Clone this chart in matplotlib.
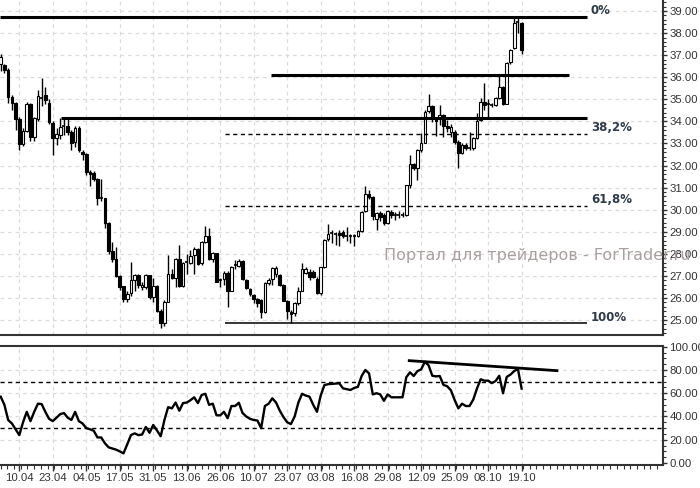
import matplotlib
matplotlib.use("Agg")
import matplotlib.pyplot as plt
from matplotlib.ticker import MultipleLocator, FixedLocator, FuncFormatter

plt.rcParams['font.family'] = ['Liberation Sans', 'DejaVu Sans']

# --- данные (читаются с графика) ---
opens = [36.6, 36.55, 36.33, 35.12, 34.85, 34.1, 32.97, 33.58, 34.8, 33.3,
         34.1, 35.0, 35.2, 34.85, 33.92, 33.26, 33.4, 33.75, 33.8, 33.5,
         33.05, 33.7, 32.62, 32.52, 31.72, 31.66, 31.39, 30.5, 30.53, 29.4,
         28.14, 27.78, 27.0, 26.54, 25.95, 26.22, 26.8, 27.04, 26.48, 26.5,
         27.04, 26.03, 26.54, 25.42, 24.85, 25.83, 27.08, 26.89, 27.75, 26.54,
         27.58, 27.6, 27.94, 28.2, 27.57, 28.55, 28.8, 27.75, 28.02, 26.76,
         26.84, 27.14, 26.33, 27.43, 27.45, 27.69, 26.81, 26.39, 26.13, 25.94,
         25.91, 25.35, 26.66, 26.84, 27.08, 27.04, 26.59, 25.87, 25.38, 25.33,
         25.78, 26.33, 27.15, 27.19, 27.19, 26.88, 26.21, 27.38, 28.65, 28.88,
         28.9, 28.96, 29.0, 28.8, 28.82, 28.8, 28.8, 29.05, 29.95, 30.71,
         30.56, 29.56, 29.86, 29.76, 29.41, 29.9, 29.77, 29.76, 29.78, 29.76,
         31.1, 32.07, 31.87, 32.7, 33.03, 34.48, 34.7, 34.14, 34.14, 34.29,
         33.79, 33.53, 33.53, 33.08, 32.55, 32.93, 32.78, 32.78, 33.26, 34.06,
         34.86, 34.75, 34.76, 34.74, 35.04, 35.54, 34.81, 36.7, 37.31, 38.47,
         38.45]
highs = [37.05, 36.6, 36.4, 35.2, 34.9, 34.2, 33.7, 34.9, 34.85, 34.2,
         35.42, 35.95, 35.55, 35.0, 34.0, 33.7, 34.15, 34.15, 34.15, 33.6,
         33.8, 33.8, 32.7, 32.55, 31.8, 31.75, 31.45, 31.4, 30.55, 29.45,
         28.55, 28.32, 27.05, 26.55, 26.3, 27.64, 27.1, 27.1, 26.7, 27.1,
         27.06, 26.9, 26.6, 25.5, 25.9, 27.94, 27.3, 27.8, 28.4, 27.65,
         28.0, 28.15, 28.3, 28.25, 28.6, 29.26, 29.15, 28.1, 28.05, 26.9,
         27.2, 27.2, 27.45, 27.7, 27.75, 27.72, 26.85, 26.45, 26.2, 26.0,
         25.95, 26.7, 26.9, 27.4, 27.45, 27.1, 26.62, 25.9, 25.45, 25.8,
         26.5, 27.6, 27.4, 27.3, 27.25, 26.95, 27.4, 28.65, 29.35, 29.08,
         29.0, 29.1, 29.1, 29.2, 28.9, 28.9, 29.1, 29.95, 31.07, 30.9,
         30.6, 29.9, 29.95, 29.85, 30.0, 29.98, 29.9, 29.95, 29.9, 31.12,
         32.47, 32.1, 32.75, 33.46, 34.5, 35.22, 34.75, 34.2, 34.75, 34.35,
         34.05, 33.9, 33.6, 33.15, 33.0, 33.0, 33.5, 33.3, 34.4, 35.04,
         35.72, 35.0, 34.82, 35.09, 36.05, 35.6, 36.7, 37.3, 38.74, 38.74,
         38.5]
lows = [36.3, 36.2, 34.85, 34.5, 33.6, 32.7, 32.9, 33.5, 33.1, 33.1,
        34.0, 34.7, 34.8, 33.9, 32.48, 32.95, 33.2, 33.4, 33.4, 32.7,
        32.85, 32.6, 32.25, 31.55, 31.08, 31.3, 30.2, 30.4, 29.17, 28.0,
        27.64, 26.95, 26.36, 25.8, 25.8, 26.1, 26.3, 26.45, 26.35, 26.4,
        25.95, 25.83, 25.35, 24.62, 24.75, 25.8, 26.85, 26.5, 26.5, 26.5,
        27.1, 27.55, 27.1, 27.5, 27.5, 28.5, 27.7, 27.65, 26.7, 26.5,
        26.6, 25.6, 26.3, 27.3, 27.4, 26.8, 26.4, 26.1, 25.75, 25.6,
        25.1, 25.3, 26.6, 26.6, 26.95, 26.55, 25.85, 25.03, 24.88, 25.2,
        25.7, 26.3, 27.1, 26.8, 26.9, 26.2, 26.15, 27.35, 28.6, 28.5,
        28.4, 28.35, 28.7, 28.6, 28.5, 28.35, 28.75, 29.0, 29.9, 30.5,
        29.55, 29.08, 29.5, 29.3, 29.35, 29.6, 29.55, 29.6, 29.65, 29.7,
        31.0, 31.8, 31.34, 32.6, 33.0, 34.4, 33.98, 33.34, 33.85, 33.27,
        33.5, 33.3, 32.97, 31.87, 32.5, 32.7, 32.7, 32.72, 33.2, 34.0,
        34.5, 34.2, 34.66, 34.7, 35.0, 34.75, 34.78, 36.6, 37.28, 38.02,
        37.05]
closes = [36.9, 36.33, 35.12, 34.85, 34.1, 32.97, 33.58, 34.8, 33.3, 34.15,
          35.15, 35.05, 34.95, 33.95, 33.26, 33.42, 33.74, 33.8, 33.53, 33.03,
          33.7, 32.7, 32.5, 31.72, 31.62, 31.4, 30.53, 30.55, 29.4, 28.14,
          27.78, 27.0, 26.5, 25.95, 26.2, 26.81, 27.04, 26.58, 26.58, 27.04,
          26.06, 26.54, 25.42, 24.85, 25.83, 27.08, 26.89, 27.75, 26.54, 27.6,
          27.62, 27.9, 28.2, 27.54, 28.52, 28.8, 27.75, 28.02, 26.73, 26.8,
          27.11, 26.33, 27.39, 27.47, 27.69, 26.84, 26.44, 26.18, 25.94, 25.78,
          25.35, 26.66, 26.81, 27.34, 27.34, 26.59, 25.87, 25.42, 25.27, 25.78,
          26.33, 27.3, 27.3, 26.96, 26.93, 26.21, 27.38, 28.62, 28.9, 28.92,
          28.91, 28.85, 28.8, 28.82, 28.8, 28.82, 29.05, 29.91, 30.71, 30.56,
          29.7, 29.83, 29.65, 29.41, 29.95, 29.78, 29.76, 29.78, 29.76, 31.1,
          32.07, 31.87, 32.7, 33.0, 34.44, 34.7, 34.09, 34.03, 34.29, 33.79,
          33.68, 33.73, 33.08, 32.55, 32.93, 32.78, 32.8, 33.26, 34.03, 34.86,
          34.74, 34.77, 34.74, 35.04, 35.54, 34.81, 36.66, 37.23, 38.47, 38.5,
          37.25]
rsi = [57, 50, 37, 34, 29, 24, 35, 44, 36, 44,
       51, 50.7, 44, 38, 36, 39, 42, 43, 39, 37,
       44, 36, 34, 30, 29, 27.8, 22, 22, 17, 13.5,
       12.5, 11.5, 10, 8.3, 16, 24, 25.5, 24, 24.5, 31,
       26, 32.7, 28, 23, 37, 48, 47, 52, 45, 51.5,
       52, 54, 56.5, 51.5, 58.5, 59.5, 50, 51, 41, 41,
       44, 38.5, 49, 49, 51.8, 43, 40, 38, 37, 36.5,
       30, 49, 51, 55.6, 52, 45, 39.5, 35, 33.5, 40,
       52, 59.5, 58, 57, 50, 44, 58, 67, 67.8, 68,
       68.3, 68.5, 64.2, 63.5, 62.8, 64.5, 65.5, 74.8, 80, 77,
       59, 60, 59, 53.5, 59, 56.5, 56.5, 56.5, 56.5, 73.7,
       78, 74.8, 79, 80.5, 87, 84, 75, 74.5, 74.8, 67.1,
       66, 62.5, 54.2, 47, 51, 49, 49, 54.5, 64, 72,
       70.8, 70.8, 68.7, 70.5, 75, 60, 74, 76, 79, 81,
       64]
date_labels = ['10.04', '23.04', '04.05', '17.05', '31.05', '13.06', '26.06', '10.07',
               '23.07', '03.08', '16.08', '29.08', '12.09', '25.09', '08.10', '19.10']
fib_labels = ['0%', '38,2%', '61,8%', '100%']
fib_prices = [38.75, 33.44, 30.16, 24.85]
hline_prices = [36.1, 34.14]
rsi_trend_bars = [109.8, 149.5]
rsi_trend_vals = [88, 79.4]

W, H = 700, 488
fig = plt.figure(figsize=(W / 100, H / 100), dpi=100, facecolor='white')
ax = fig.add_axes([0, (H - 335) / H, 663 / W, 335 / H])
ax2 = fig.add_axes([0, (H - 465) / H, 663 / W, 119 / H])

n = len(opens)
xs = list(range(n))
xlim = (-0.19, 178.0)
grid_kw = dict(color='#dcdcdc', linestyle=(0, (3, 3)), linewidth=0.9, zorder=0)
tick_pos = [5 + 9 * k for k in range(len(date_labels))]
axis_col = '#333333'

# --- свечи ---
for i in xs:
    o, h, l, c = opens[i], highs[i], lows[i], closes[i]
    ax.vlines(i, l, h, color='black', linewidth=1, zorder=3)
    lo, hi = min(o, c), max(o, c)
    if hi - lo < 0.06:
        ax.hlines(c, i - 0.4, i + 0.4, color='black', linewidth=1.2, zorder=4)
    else:
        ax.bar(i, hi - lo, bottom=lo, width=0.72, zorder=4,
               facecolor='white' if c >= o else 'black', edgecolor='black', linewidth=0.8)

ax.set_xlim(*xlim)
ax.set_ylim(24.32, 39.5)
for p in range(25, 40):
    ax.axhline(p, **grid_kw)
for t in tick_pos:
    ax.axvline(t, **grid_kw)

# горизонтальные линии и уровни Фибоначчи
ax.hlines(fib_prices[0], xlim[0], 157.6, color='black', linewidth=2.2, zorder=5)
ax.hlines(hline_prices[0], 72.7, 152.8, color='black', linewidth=2.2, zorder=5)
ax.hlines(hline_prices[1], 16.2, 157.6, color='black', linewidth=2.2, zorder=5)
ax.hlines(fib_prices[1:3], 60.3, 157.6, color='black', linewidth=1,
          linestyles=[(0, (3, 2.5))], zorder=5)
ax.hlines(fib_prices[3], 60.3, 157.6, color='black', linewidth=1.1, zorder=5)
for lab, p in zip(fib_labels, fib_prices):
    ax.text(158.6, p + 0.28, lab, fontsize=8.5, fontweight='bold', color='#2e3b4a',
            ha='left', va='center', family='DejaVu Sans', zorder=6)

ax.text(102.9, 27.94, 'Портал для трейдеров - ForTrader.ru', fontsize=11.5,
        color='#aaa0a0', ha='left', va='center', family='DejaVu Sans',
        clip_on=False, zorder=6)

ax.yaxis.tick_right()
ax.yaxis.set_major_locator(MultipleLocator(1))
ax.yaxis.set_minor_locator(MultipleLocator(0.2))
ax.yaxis.set_major_formatter(FuncFormatter(lambda v, _: f'{v:.2f}'))
ax.tick_params(axis='y', which='major', length=3, width=1, labelsize=8.2, pad=1.5, colors=axis_col)
ax.tick_params(axis='y', which='minor', length=2, width=0.8, colors=axis_col)
ax.tick_params(axis='x', bottom=False, labelbottom=False)
for s in ['top', 'left']:
    ax.spines[s].set_visible(False)
for s in ['right', 'bottom']:
    ax.spines[s].set_color(axis_col)
    ax.spines[s].set_linewidth(1.5)

# --- RSI ---
ax2.plot(xs, rsi, color='black', linewidth=1.7, zorder=4)
ax2.plot(rsi_trend_bars, rsi_trend_vals, color='black', linewidth=2, zorder=5)
ax2.axhline(70, color='black', linewidth=1, linestyle=(0, (3, 2.5)), zorder=3)
ax2.axhline(30, color='black', linewidth=1, linestyle=(0, (3, 2.5)), zorder=3)
for p in [20, 40, 60, 80]:
    ax2.axhline(p, **grid_kw)
for t in tick_pos:
    ax2.axvline(t, **grid_kw)
ax2.set_xlim(*xlim)
ax2.set_ylim(-1.7, 100.6)
ax2.yaxis.tick_right()
ax2.yaxis.set_major_locator(MultipleLocator(20))
ax2.yaxis.set_minor_locator(MultipleLocator(5))
ax2.yaxis.set_major_formatter(FuncFormatter(lambda v, _: f'{v:.2f}'))
ax2.tick_params(axis='y', which='major', length=3, width=1, labelsize=8.2, pad=1.5, colors=axis_col)
ax2.tick_params(axis='y', which='minor', length=2, width=0.8, colors=axis_col)
ax2.xaxis.set_major_locator(FixedLocator(tick_pos))
ax2.xaxis.set_minor_locator(MultipleLocator(1.8))
ax2.set_xticklabels(date_labels)
ax2.tick_params(axis='x', which='major', length=4, width=1, labelsize=8.2, pad=2, colors=axis_col)
ax2.tick_params(axis='x', which='minor', length=3, width=0.8, colors=axis_col)
ax2.spines['left'].set_visible(False)
for s in ['top', 'right', 'bottom']:
    ax2.spines[s].set_color(axis_col)
    ax2.spines[s].set_linewidth(1.5)

fig.savefig('out.png', dpi=100, facecolor='white')
